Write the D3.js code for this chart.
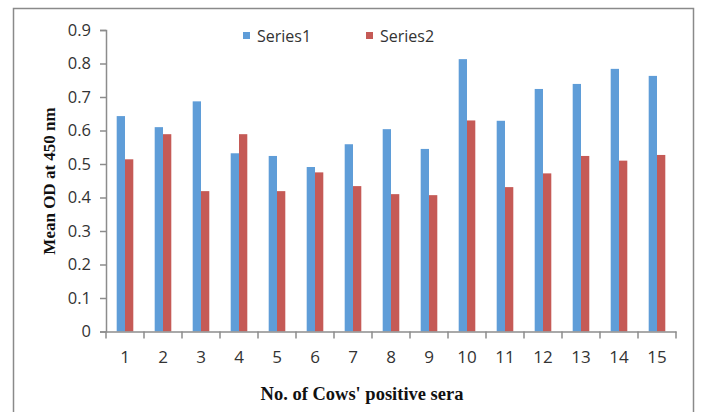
<!DOCTYPE html>
<html>
<head>
<meta charset="utf-8">
<script src="https://cdn.jsdelivr.net/npm/d3@7"></script>
<style>
  html, body { margin: 0; padding: 0; background: #fff; }
  svg { display: block; }
</style>
</head>
<body>
<svg id="chart" width="701" height="412"></svg>
<script>
// Cow sera numbers along the x axis
const categories = ["1","2","3","4","5","6","7","8","9","10","11","12","13","14","15"];
const seriesNames = ["Series1", "Series2"];
// Mean OD at 450 nm for each serum
const series1 = [0.643, 0.610, 0.687, 0.532, 0.524, 0.491, 0.559, 0.604, 0.545, 0.813, 0.629, 0.724, 0.739, 0.784, 0.763];
const series2 = [0.514, 0.589, 0.419, 0.589, 0.419, 0.475, 0.434, 0.410, 0.407, 0.630, 0.431, 0.472, 0.524, 0.510, 0.527];
const yTicks = [0, 0.1, 0.2, 0.3, 0.4, 0.5, 0.6, 0.7, 0.8, 0.9];
const colors = ["#5f9dd8", "#c55a56"];

const svg = d3.select("#chart");
const axisColor = "#8c8c8c";
const labelFont = "'Open Sans', sans-serif";
const titleFont = "'Liberation Serif', 'Times New Roman', serif";

// outer chart frame
svg.append("rect")
  .attr("x", 13.5).attr("y", 8.5)
  .attr("width", 680).attr("height", 420)
  .attr("fill", "none").attr("stroke", "#8a8a8a").attr("stroke-width", 1.5);

const plotLeft = 106, plotRight = 676, plotTop = 30, plotBottom = 331.5;

const x = d3.scaleBand().domain(categories).range([plotLeft, plotRight]);
const y = d3.scaleLinear().domain([0, 0.9]).range([plotBottom, plotTop]);

const barW = 8.3;

// bars, the two series side by side in each band
const data = [series1, series2];
data.forEach((vals, si) => {
  svg.append("g").selectAll("rect")
    .data(vals)
    .join("rect")
    .attr("x", (d, i) => x(categories[i]) + x.bandwidth() / 2 + (si === 0 ? -barW : 0))
    .attr("y", d => y(d))
    .attr("width", barW)
    .attr("height", d => y(0) - y(d))
    .attr("fill", colors[si]);
});

// y axis
const yAxis = svg.append("g")
  .attr("transform", `translate(${plotLeft},0)`)
  .call(d3.axisLeft(y).tickValues(yTicks).tickFormat(d => d === 0 ? "0" : d3.format(".1f")(d)).tickSize(6).tickPadding(9));
yAxis.select(".domain").attr("stroke", axisColor).attr("stroke-width", 1.5);
yAxis.selectAll(".tick line").attr("stroke", axisColor).attr("stroke-width", 1.5);
yAxis.selectAll(".tick text")
  .attr("fill", "#333").attr("font-family", labelFont).attr("font-size", 16.5);

// x axis with ticks on category boundaries
const xAxis = svg.append("g")
  .attr("transform", `translate(0,${plotBottom})`)
  .call(d3.axisBottom(x).tickSize(0).tickPadding(19));
xAxis.select(".domain").attr("stroke", axisColor).attr("stroke-width", 1.5);
xAxis.selectAll(".tick text")
  .attr("fill", "#333").attr("font-family", labelFont).attr("font-size", 17);
const bounds = categories.map(c => x(c)).concat([x(categories[categories.length - 1]) + x.bandwidth()]);
svg.append("g").selectAll("line")
  .data(bounds)
  .join("line")
  .attr("x1", d => d).attr("x2", d => d)
  .attr("y1", plotBottom).attr("y2", plotBottom + 7)
  .attr("stroke", axisColor).attr("stroke-width", 1.5);

// axis titles
svg.append("text")
  .attr("transform", "translate(55,181) rotate(-90)")
  .attr("text-anchor", "middle")
  .attr("font-family", titleFont)
  .attr("font-weight", "bold").attr("font-size", 17).attr("fill", "#111")
  .text("Mean OD at 450 nm");

svg.append("text")
  .attr("x", 362).attr("y", 400)
  .attr("text-anchor", "middle")
  .attr("font-family", titleFont)
  .attr("font-weight", "bold").attr("font-size", 18.5).attr("fill", "#111")
  .text("No. of Cows' positive sera");

// legend
const legendX = [243, 366];
const legend = svg.append("g").selectAll("g")
  .data(seriesNames)
  .join("g")
  .attr("transform", (d, i) => `translate(${legendX[i]},32)`);
legend.append("rect").attr("width", 7).attr("height", 7).attr("fill", (d, i) => colors[i]);
legend.append("text")
  .attr("x", 14).attr("y", 10)
  .attr("font-family", labelFont).attr("font-size", 16).attr("fill", "#333")
  .text(d => d);
</script>
</body>
</html>
